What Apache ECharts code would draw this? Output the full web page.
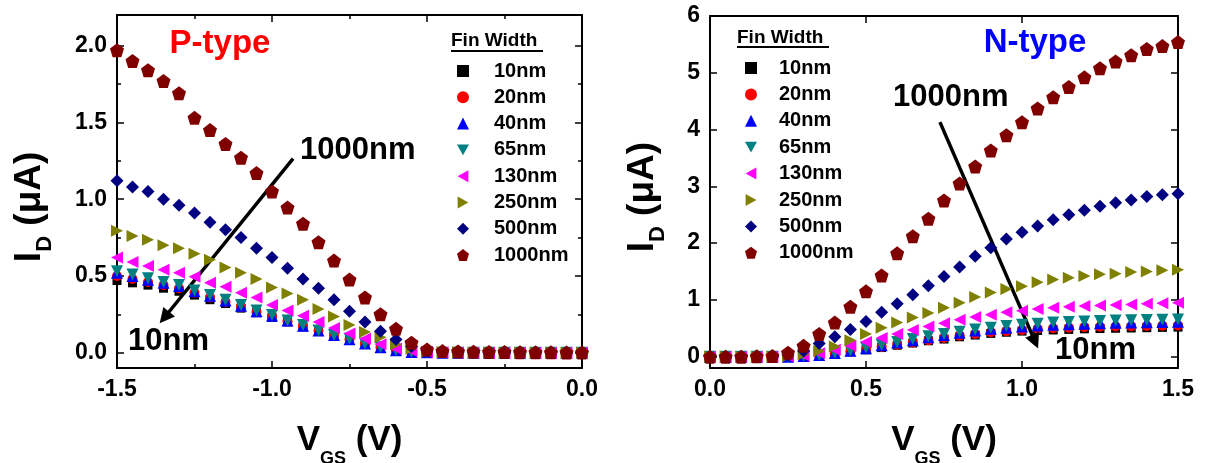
<!DOCTYPE html>
<html><head><meta charset="utf-8">
<script src="https://cdn.jsdelivr.net/npm/echarts@6/dist/echarts.min.js"></script>
<style>html,body{margin:0;padding:0;background:#fff}#c{width:1205px;height:463px}</style>
</head><body><div id="c"></div>
<script>
// ---- data ----
const vgsP = [-1.50,-1.45,-1.40,-1.35,-1.30,-1.25,-1.20,-1.15,-1.10,-1.05,-1.00,-0.95,-0.90,-0.85,-0.80,-0.75,-0.70,-0.65,-0.60,-0.55,-0.50,-0.45,-0.40,-0.35,-0.30,-0.25,-0.20,-0.15,-0.10,-0.05,0.00];
const vgsN = [0.00,0.05,0.10,0.15,0.20,0.25,0.30,0.35,0.40,0.45,0.50,0.55,0.60,0.65,0.70,0.75,0.80,0.85,0.90,0.95,1.00,1.05,1.10,1.15,1.20,1.25,1.30,1.35,1.40,1.45,1.50];
const finWidths = ['10nm','20nm','40nm','65nm','130nm','250nm','500nm','1000nm'];

// P-type drain current (uA)
const p10   = [0.47,0.455,0.44,0.42,0.40,0.375,0.345,0.32,0.29,0.26,0.23,0.20,0.168,0.138,0.11,0.084,0.056,0.033,0.014,0.005,0.002,0,0,0,0,0,0,0,0,0,0];
const p20   = [0.50,0.48,0.46,0.44,0.42,0.39,0.36,0.33,0.30,0.265,0.235,0.205,0.172,0.142,0.112,0.086,0.058,0.034,0.014,0.005,0.002,0,0,0,0,0,0,0,0,0,0];
const p40   = [0.52,0.50,0.475,0.455,0.435,0.40,0.37,0.34,0.305,0.27,0.24,0.21,0.175,0.145,0.115,0.088,0.06,0.035,0.015,0.005,0.002,0,0,0,0,0,0,0,0,0,0];
const p65   = [0.53,0.51,0.485,0.46,0.44,0.405,0.375,0.345,0.31,0.275,0.245,0.21,0.18,0.145,0.115,0.09,0.06,0.035,0.015,0.005,0.002,0,0,0,0,0,0,0,0,0,0];
const p130  = [0.62,0.59,0.565,0.54,0.52,0.495,0.455,0.43,0.39,0.36,0.31,0.275,0.24,0.20,0.16,0.125,0.09,0.055,0.025,0.01,0.004,0.002,0,0,0,0,0,0,0,0,0];
const p250  = [0.795,0.76,0.735,0.70,0.68,0.645,0.605,0.555,0.52,0.48,0.425,0.385,0.345,0.285,0.235,0.18,0.135,0.10,0.055,0.025,0.008,0.004,0.002,0,0,0,0,0,0,0,0];
const p500  = [1.12,1.08,1.05,1.00,0.96,0.91,0.85,0.80,0.75,0.68,0.62,0.55,0.48,0.42,0.345,0.27,0.20,0.14,0.085,0.04,0.012,0.005,0.003,0.002,0.001,0,0,0,0,0,0];
const p1000 = [1.97,1.90,1.84,1.77,1.69,1.53,1.45,1.36,1.27,1.17,1.05,0.945,0.84,0.72,0.60,0.476,0.36,0.25,0.155,0.065,0.02,0.01,0.008,0.006,0.005,0.004,0.003,0.002,0.002,0.001,0.001];

// N-type drain current (uA)
const n10   = [0,0,0,0,0,0,0.007,0.02,0.05,0.085,0.12,0.16,0.20,0.24,0.28,0.31,0.35,0.38,0.41,0.43,0.45,0.46,0.47,0.48,0.49,0.495,0.50,0.505,0.51,0.515,0.52];
const n20   = [0,0,0,0,0,0,0.008,0.025,0.055,0.09,0.13,0.17,0.21,0.25,0.29,0.33,0.37,0.40,0.43,0.45,0.47,0.49,0.50,0.51,0.52,0.525,0.53,0.535,0.54,0.545,0.55];
const n40   = [0,0,0,0,0,0,0.01,0.03,0.065,0.105,0.15,0.20,0.25,0.29,0.34,0.38,0.42,0.46,0.49,0.51,0.53,0.55,0.56,0.57,0.58,0.59,0.595,0.60,0.605,0.61,0.615];
const n65   = [0,0,0,0,0,0,0.01,0.03,0.07,0.11,0.16,0.21,0.26,0.31,0.36,0.40,0.44,0.48,0.51,0.54,0.56,0.58,0.60,0.61,0.62,0.63,0.635,0.64,0.645,0.65,0.655];
const n130  = [0,0,0,0,0,0.005,0.02,0.06,0.12,0.19,0.26,0.33,0.40,0.47,0.53,0.59,0.65,0.70,0.74,0.78,0.81,0.84,0.86,0.88,0.89,0.90,0.91,0.92,0.93,0.94,0.95];
const n250  = [0,0,0,0,0.003,0.01,0.04,0.10,0.18,0.29,0.40,0.51,0.60,0.69,0.77,0.86,0.95,1.05,1.13,1.19,1.24,1.31,1.36,1.39,1.42,1.45,1.46,1.49,1.50,1.52,1.53];
const n500  = [0,0,0,0,0.005,0.03,0.10,0.23,0.35,0.48,0.62,0.78,0.93,1.09,1.25,1.41,1.58,1.77,1.92,2.07,2.19,2.30,2.41,2.50,2.58,2.65,2.71,2.76,2.82,2.85,2.87];
const n1000 = [0,0,0,0.005,0.01,0.07,0.19,0.40,0.60,0.88,1.15,1.43,1.82,2.12,2.43,2.75,3.05,3.35,3.63,3.90,4.13,4.37,4.57,4.75,4.92,5.08,5.20,5.31,5.42,5.47,5.54];

const pSeries = [p10,p20,p40,p65,p130,p250,p500,p1000];
const nSeries = [n10,n20,n40,n65,n130,n250,n500,n1000];

// arrow annotations in data coordinates: [start, end]
const arrowP = [[-0.932,1.264],[-1.347,0.229]];
const arrowN = [[0.737,4.13],[1.042,0.264]];

// ---- styling ----
const FONT = '"Liberation Sans", Arial, Helvetica, sans-serif';
const colors = ['#000000','#FF0000','#0000FF','#008080','#FF00FF','#808000','#000080','#800000'];
const symbols = ['rect','circle','triangle','path://M0,0L10,0L5,9Z','path://M9,0L9,10L0,5Z','path://M0,0L9,5L0,10Z','diamond','path://M5,0L10,3.8L8.1,10L1.9,10L0,3.8Z'];
const symbolSizes = [9,10,12,12,12,12,13,14];

const chart = echarts.init(document.getElementById('c'), null, {renderer:'canvas'});

function fmt1(v){ return Math.abs(v) < 1e-9 ? '0.0' : v.toFixed(1); }

const tickStyle = {color:'#000', width:1.5};
function baseAxis(extra){
  return Object.assign({
    type:'value',
    axisLine:{show:true, onZero:false, lineStyle:{color:'#000', width:2}},
    axisTick:{show:true, inside:true, length:7, lineStyle:tickStyle},
    splitLine:{show:false},
    minorSplitLine:{show:false},
    axisLabel:{color:'#000', fontSize:23, fontWeight:'bold', fontFamily:FONT, margin:10},
  }, extra);
}
const xName = {
  name:'{v|V}{s|GS}{v| (V)}', nameLocation:'middle', nameGap:44,
  nameTextStyle:{rich:{
    v:{fontSize:35, fontWeight:'bold', fontFamily:FONT, color:'#000', lineHeight:56, verticalAlign:'middle'},
    s:{fontSize:18, fontWeight:'bold', fontFamily:FONT, color:'#000', lineHeight:18, verticalAlign:'bottom'}
  }}
};
function yName(gap, tail){
  return {
    name:'{i|I}{d|D}{u| (μA)' + tail + '}', nameLocation:'middle', nameGap:gap, nameRotate:90,
    nameTextStyle:{rich:{
      i:{fontSize:37, fontWeight:'bold', fontFamily:FONT, color:'#000', lineHeight:52, verticalAlign:'middle'},
      u:{fontSize:37, fontWeight:'bold', fontFamily:FONT, color:'#000', lineHeight:52, verticalAlign:'middle'},
      d:{fontSize:22, fontWeight:'bold', fontFamily:FONT, color:'#000', lineHeight:22, verticalAlign:'bottom'}
    }}
  };
}
const minorP = {show:true, splitNumber:2, length:4, lineStyle:tickStyle};

const xAxis = [
  baseAxis(Object.assign({gridIndex:0, position:'bottom', min:-1.5, max:0, interval:0.5, minorTick:minorP,
    axisLabel:{color:'#000', fontSize:23, fontWeight:'bold', fontFamily:FONT, margin:10, formatter:fmt1}}, xName)),
  baseAxis({gridIndex:0, position:'top', min:-1.5, max:0, interval:0.5, minorTick:minorP, axisLabel:{show:false}}),
  baseAxis(Object.assign({gridIndex:1, position:'bottom', min:0, max:1.5, interval:0.5,
    axisLabel:{color:'#000', fontSize:23, fontWeight:'bold', fontFamily:FONT, margin:10, formatter:fmt1}}, xName)),
  baseAxis({gridIndex:1, position:'top', min:0, max:1.5, interval:0.5, axisLabel:{show:false}})
];
const yAxis = [
  baseAxis(Object.assign({gridIndex:0, position:'left', min:-0.1, max:2.2, minInterval:0.5, maxInterval:0.5, minorTick:minorP,
    axisLabel:{color:'#000', fontSize:23, fontWeight:'bold', fontFamily:FONT, margin:10, formatter:fmt1, showMinLabel:false, showMaxLabel:false}}, yName(61, '   '))),
  baseAxis({gridIndex:0, position:'right', min:-0.1, max:2.2, minInterval:0.5, maxInterval:0.5, minorTick:minorP, axisLabel:{show:false}}),
  baseAxis(Object.assign({gridIndex:1, position:'left', min:-0.2, max:6, minInterval:1, maxInterval:1,
    axisLabel:{color:'#000', fontSize:23, fontWeight:'bold', fontFamily:FONT, margin:10, showMinLabel:false}}, yName(41, ' '))),
  baseAxis({gridIndex:1, position:'right', min:-0.2, max:6, minInterval:1, maxInterval:1, axisLabel:{show:false}})
];

const series = [];
function addSeries(vgs, sets, xi, yi, arrow){
  sets.forEach((arr, i) => {
    const s = {
      type:'scatter', name:finWidths[i], xAxisIndex:xi, yAxisIndex:yi,
      data: vgs.map((x, j) => [x, arr[j]]),
      symbol:symbols[i], symbolSize:symbolSizes[i],
      itemStyle:{color:colors[i], opacity:1},
      emphasis:{disabled:true}, z:2+i, animation:false, clip:false
    };
    if (i === sets.length - 1) {
      s.markLine = {
        silent:true, animation:false, symbol:['none','triangle'], symbolSize:15,
        label:{show:false}, emphasis:{disabled:true},
        itemStyle:{color:'#000'},
        lineStyle:{color:'#000', width:3.5, type:'solid'},
        data:[[{coord:arrow[0]},{coord:arrow[1]}]]
      };
    }
    series.push(s);
  });
}
addSeries(vgsP, pSeries, 0, 0, arrowP);
addSeries(vgsN, nSeries, 2, 2, arrowN);

const legendText = {fontSize:20, fontWeight:'bold', fontFamily:FONT, color:'#000', lineHeight:20};
const legend = [
  {data:finWidths, orient:'vertical', left:457, top:61, padding:0, itemWidth:12, itemHeight:12, itemGap:6.3,
   selectedMode:false, textStyle:Object.assign({padding:[0,0,0,20]}, legendText)},
  {data:finWidths, orient:'vertical', left:745, top:58, padding:0, itemWidth:12, itemHeight:12, itemGap:6.4,
   selectedMode:false, textStyle:Object.assign({padding:[0,0,0,17]}, legendText)}
];

function txt(x, y, text, size, color, align){
  return {type:'text', x:x, y:y, silent:true, z:100,
    style:{text:text, fill:color, font:'bold '+size+'px '+FONT, align:align||'left', verticalAlign:'middle'}};
}
const graphic = [
  txt(220, 44, 'P-type', 33, '#FF0000', 'center'),
  txt(1035, 43, 'N-type', 33, '#0000FF', 'center'),
  txt(300, 150, '1000nm', 31, '#000'),
  txt(128, 341, '10nm', 31, '#000'),
  txt(893, 97, '1000nm', 31, '#000'),
  txt(1055, 350, '10nm', 31, '#000'),
  txt(451, 41, 'Fin Width', 19, '#000'),
  txt(737, 38, 'Fin Width', 19, '#000'),
  {type:'line', silent:true, shape:{x1:451,y1:51,x2:543,y2:51}, style:{stroke:'#000', lineWidth:2}},
  {type:'line', silent:true, shape:{x1:737,y1:47,x2:829,y2:47}, style:{stroke:'#000', lineWidth:2}}
];

chart.setOption({
  backgroundColor:'#fff',
  animation:false,
  grid:[
    {left:117, top:15, width:465, height:353, outerBoundsMode:'none', containLabel:false},
    {left:710, top:16, width:468, height:352, outerBoundsMode:'none', containLabel:false}
  ],
  xAxis:xAxis, yAxis:yAxis, legend:legend, series:series, graphic:graphic
});
</script>
</body></html>
